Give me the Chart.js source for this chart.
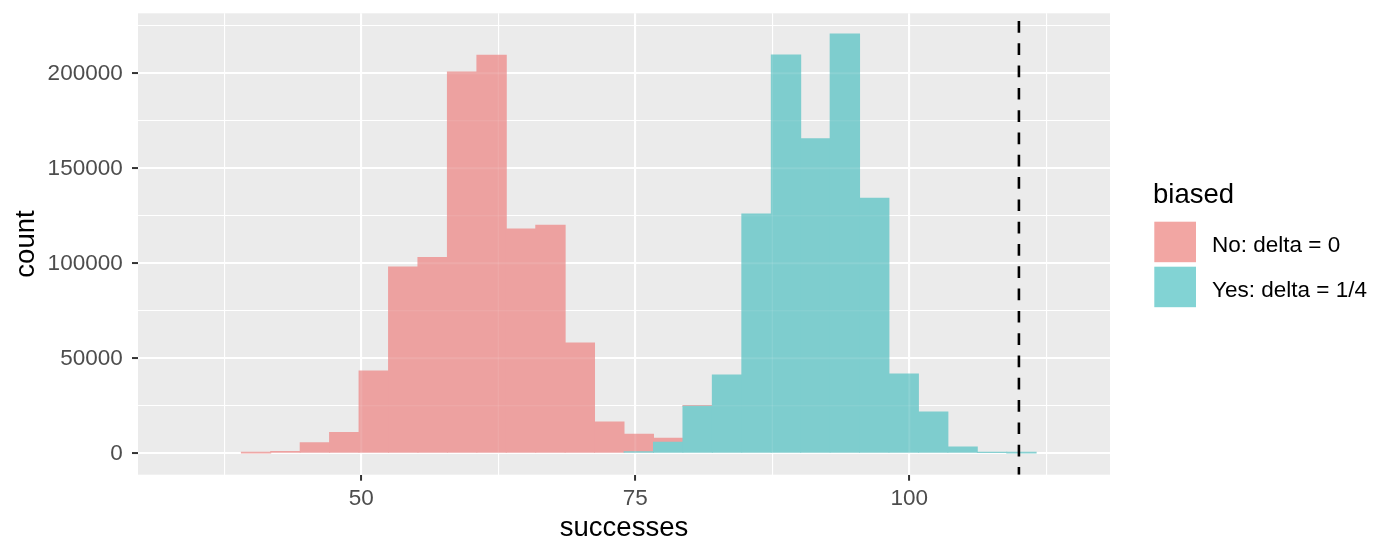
<!DOCTYPE html>
<html>
<head>
<meta charset="utf-8">
<script src="https://cdn.jsdelivr.net/npm/chart.js@4.4.1/dist/chart.umd.min.js"></script>
<style>
html,body{margin:0;padding:0;background:#ffffff;}
#wrap{width:1374px;height:541px;position:relative;}
</style>
</head>
<body>
<div id="wrap"><canvas id="c"></canvas></div>
<script>
// ---- data (histogram counts are stacked, "No" on top) ----
const binCenters = [35.02, 37.71, 40.40, 43.08, 45.77, 48.45, 51.14, 53.83, 56.51, 59.20,
                    61.89, 64.57, 67.26, 69.94, 72.63, 75.32, 78.00, 80.69, 83.37, 86.06,
                    88.75, 91.43, 94.12, 96.80, 99.49, 102.18, 104.86, 107.55, 110.23, 112.92];
const countsNo  = [0, 0, 200, 900, 5600, 11000, 43300, 98000, 103100, 200700,
                   209500, 118000, 120000, 58000, 16500, 9200, 2100, 400, 0, 0,
                   0, 0, 0, 0, 0, 0, 0, 0, 0, 0];
const countsYes = [0, 0, 0, 0, 0, 0, 0, 0, 0, 0,
                   0, 0, 0, 0, 0, 800, 5800, 24800, 41200, 126000,
                   209600, 165600, 220700, 134300, 41700, 21700, 3300, 400, 100, 0];
const seriesNames = ['No: delta = 0', 'Yes: delta = 1/4'];
const legendTitle = 'biased';
const xTicks = [37.5, 50, 62.5, 75, 87.5, 100, 112.5];
const xLabelled = [50, 75, 100];
const yTicks = [0, 25000, 50000, 75000, 100000, 125000, 150000, 175000, 200000, 225000];
const yLabelled = [0, 50000, 100000, 150000, 200000];
const vlineValue = 110;

const FONT = "'Liberation Sans', Arial, Helvetica, sans-serif";
// colours as they appear on the grey panel (semi-transparent fills pre-blended)
const pinkFill = '#EDA1A0';
const tealFill = '#7ECDCE';
const pinkKey = '#F2A6A3';
const tealKey = '#82D3D4';

const panelPlugin = {
  id: 'panel',
  beforeDraw(chart) {
    const {ctx, chartArea: a} = chart;
    ctx.save();
    ctx.fillStyle = '#EBEBEB';
    ctx.fillRect(a.left, a.top, a.right - a.left, a.bottom - a.top);
    ctx.restore();
  },
  afterDatasetsDraw(chart) {
    const {ctx, chartArea: a, scales} = chart;
    ctx.save();
    ctx.beginPath();
    ctx.rect(a.left, a.top, a.right - a.left, a.bottom - a.top);
    ctx.clip();
    // faint grid showing through the translucent bars
    ctx.strokeStyle = 'rgba(255,255,255,0.1)';
    xTicks.forEach(v => {
      const x = scales.x.getPixelForValue(v);
      ctx.lineWidth = xLabelled.includes(v) ? 2.1 : 1.1;
      ctx.beginPath(); ctx.moveTo(x, a.top); ctx.lineTo(x, a.bottom); ctx.stroke();
    });
    yTicks.forEach(v => {
      const y = scales.y.getPixelForValue(v);
      ctx.lineWidth = yLabelled.includes(v) ? 2.1 : 1.1;
      ctx.beginPath(); ctx.moveTo(a.left, y); ctx.lineTo(a.right, y); ctx.stroke();
    });
    const x = scales.x.getPixelForValue(vlineValue);
    ctx.strokeStyle = '#000000';
    ctx.lineWidth = 2.6;
    ctx.setLineDash([11.7, 10.6]);
    ctx.lineDashOffset = 14.6;
    ctx.beginPath();
    ctx.moveTo(x, a.top);
    ctx.lineTo(x, a.bottom);
    ctx.stroke();
    ctx.restore();
  },
  afterDraw(chart) {
    const {ctx} = chart;
    ctx.save();
    ctx.fillStyle = '#000000';
    ctx.textAlign = 'left';
    ctx.textBaseline = 'alphabetic';
    ctx.font = '27.5px ' + FONT;
    ctx.fillText(legendTitle, 1153, 203.3);
    const keys = [pinkKey, tealKey];
    const tops = [221.7, 266.7];
    ctx.font = '22.5px ' + FONT;
    for (let i = 0; i < 2; i++) {
      ctx.fillStyle = keys[i];
      ctx.fillRect(1154.3, tops[i], 41.7, 40.5);
      ctx.fillStyle = '#000000';
      ctx.fillText(seriesNames[i], 1212, tops[i] + 30);
    }
    ctx.restore();
  }
};

const majorX = v => xLabelled.includes(v);
const majorY = v => yLabelled.includes(v);

new Chart(document.getElementById('c'), {
  type: 'bar',
  data: {
    datasets: [
      {
        label: seriesNames[1],
        data: binCenters.map((c, i) => ({x: c, y: countsYes[i]})),
        backgroundColor: tealFill
      },
      {
        label: seriesNames[0],
        data: binCenters.map((c, i) => ({x: c, y: countsNo[i]})),
        backgroundColor: pinkFill
      }
    ]
  },
  options: {
    responsive: true,
    maintainAspectRatio: false,
    animation: false,
    layout: {padding: {left: 0, top: 13.3, right: 264, bottom: 0}},
    datasets: {bar: {
      barPercentage: 1, categoryPercentage: 1, borderWidth: 0,
      inflateAmount: ctx => (ctx.raw && ctx.raw.y > 0) ? 0.5 : 0
    }},
    plugins: {legend: {display: false}, tooltip: {enabled: false}},
    scales: {
      x: {
        type: 'linear',
        stacked: true,
        min: 29.63,
        max: 118.31,
        offset: false,
        afterBuildTicks: s => { s.ticks = xTicks.map(v => ({value: v})); },
        afterFit: s => { s.height = 66.3; s.paddingLeft = 0; s.paddingRight = 0; },
        border: {display: false},
        grid: {
          offset: false,
          color: '#FFFFFF',
          lineWidth: ctx => (ctx.tick && majorX(ctx.tick.value)) ? 2.1 : 1.1,
          drawTicks: true,
          tickLength: 6,
          tickWidth: 2,
          tickColor: ctx => (ctx.tick && majorX(ctx.tick.value)) ? '#333333' : 'rgba(0,0,0,0)'
        },
        ticks: {
          autoSkip: false,
          maxRotation: 0,
          padding: 5,
          color: '#4D4D4D',
          font: {family: FONT, size: 22.5},
          callback: v => majorX(v) ? String(v) : ''
        },
        title: {
          display: true,
          text: 'successes',
          color: '#000000',
          font: {family: FONT, size: 27.5, lineHeight: 1},
          padding: {top: 0, bottom: -1}
        }
      },
      y: {
        type: 'linear',
        stacked: true,
        min: -11263,
        max: 231579,
        afterBuildTicks: s => { s.ticks = yTicks.map(v => ({value: v})); },
        afterFit: s => { s.width = 138; s.paddingTop = 0; s.paddingBottom = 0; },
        border: {display: false},
        grid: {
          color: '#FFFFFF',
          lineWidth: ctx => (ctx.tick && majorY(ctx.tick.value)) ? 2.1 : 1.1,
          drawTicks: true,
          tickLength: 6,
          tickWidth: 2,
          tickColor: ctx => (ctx.tick && majorY(ctx.tick.value)) ? '#333333' : 'rgba(0,0,0,0)'
        },
        ticks: {
          autoSkip: false,
          padding: 9.3,
          color: '#4D4D4D',
          font: {family: FONT, size: 22.5},
          callback: v => majorY(v) ? String(v) : ''
        },
        title: {
          display: true,
          text: 'count',
          color: '#000000',
          font: {family: FONT, size: 27.5, lineHeight: 1},
          padding: {top: 12.75, bottom: 0}
        }
      }
    }
  },
  plugins: [panelPlugin]
});
</script>
</body>
</html>
